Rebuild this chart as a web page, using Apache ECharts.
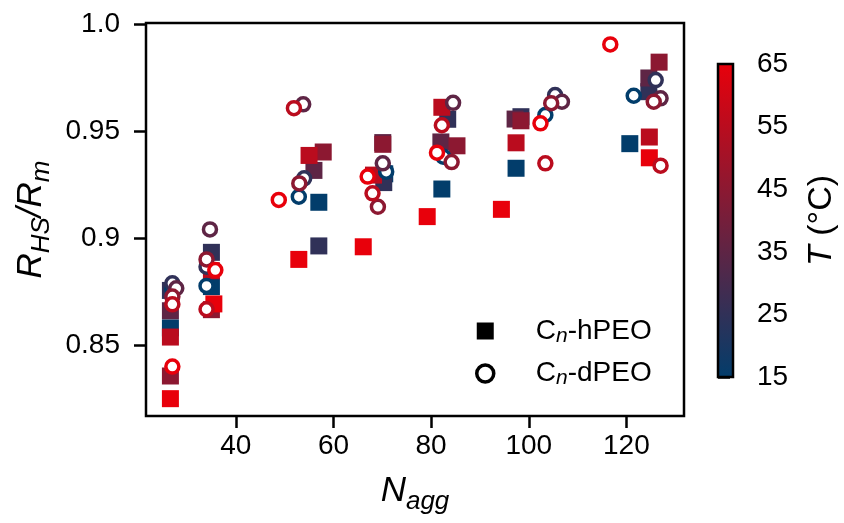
<!DOCTYPE html>
<html><head><meta charset="utf-8">
<script src="https://cdn.jsdelivr.net/npm/echarts@6/dist/echarts.min.js"></script>
<style>html,body{margin:0;padding:0;background:#fff}#c{width:844px;height:523px}</style>
</head><body><div id="c"></div>
<script>
// ---- Data ----
// Cn-hPEO (squares): aggregation number, R_HS/R_m, temperature (°C)
const hN = [
  26.6, 35, 57, 70.5, 82.2, 97.4, 120.7,
  26.6, 35, 57, 70.3, 83.4, 98.4, 124.6,
  26.6, 56, 70.1, 82, 97.2, 124.6,
  26.6, 35, 57.9, 70.1, 85.3, 98.4, 126.7,
  26.6, 35, 55, 68.2, 82.2, 97.4, 124.7,
  26.6, 35.5, 52.9, 66.1, 79.2, 94.4, 124.7
];
const hR = [
  0.858, 0.8773, 0.9167, 0.930, 0.9229, 0.9326, 0.9441,
  0.8755, 0.8933, 0.8963, 0.9259, 0.9555, 0.9567, 0.9684,
  0.866, 0.9316, 0.9446, 0.9449, 0.9556, 0.9748,
  0.8355, 0.8665, 0.9402, 0.9438, 0.9431, 0.9548, 0.9822,
  0.8537, 0.8847, 0.9386, 0.9294, 0.9611, 0.9445, 0.9472,
  0.8249, 0.8692, 0.890, 0.8959, 0.910, 0.9134, 0.9375
];
const hT = [
  15, 15, 15, 15, 15, 15, 15,
  25, 25, 25, 25, 25, 25, 25,
  35, 35, 35, 35, 35, 35,
  45, 45, 45, 45, 45, 45, 45,
  55, 55, 55, 55, 55, 55, 55,
  65, 65, 65, 65, 65, 65, 65
];
// Cn-dPEO (open circles)
const dN = [
  27, 34, 52.9, 70.8, 82.5, 103.4, 121.5,
  27, 34, 54, 105.4, 126,
  27.8, 34.7, 53.8, 70.1, 84.5, 106.8, 127,
  27, 34, 53, 69.1, 84.2, 104.6, 125.6,
  27, 34, 51.9, 68, 82.2, 103.4, 127,
  27, 35.8, 48.8, 67, 81.2, 102.4, 116.7
];
const dR = [
  0.876, 0.8776, 0.9193, 0.931, 0.938, 0.9575, 0.9665,
  0.8788, 0.8866, 0.9279, 0.9668, 0.9738,
  0.8765, 0.904, 0.9625, 0.9349, 0.9632, 0.9637, 0.9653,
  0.8726, 0.890, 0.9255, 0.9146, 0.9355, 0.963, 0.9637,
  0.869, 0.8667, 0.9607, 0.9209, 0.9527, 0.9349, 0.9338,
  0.8399, 0.885, 0.9178, 0.9287, 0.9399, 0.9536, 0.9905
];
const dT = [
  15, 15, 15, 15, 15, 15, 15,
  25, 25, 25, 25, 25,
  35, 35, 35, 35, 35, 35, 35,
  45, 45, 45, 45, 45, 45, 45,
  55, 55, 55, 55, 55, 55, 55,
  65, 65, 65, 65, 65, 65, 65
];
const seriesNames = ['hPEO', 'dPEO'];
const xTicks = [40, 60, 80, 100, 120];
const yTicks = [0.85, 0.9, 0.95, 1.0];
const yTickLabels = ['0.85', '0.9', '0.95', '1.0'];
const cbTicks = [15, 25, 35, 45, 55, 65];

// ---- Styling ----
const cmap = ['#023d6b', '#e8000b'];
const FONT = 'Liberation Sans, Arial, sans-serif';
const tMin = cbTicks[0], tMax = cbTicks[cbTicks.length - 1];
const colorOf = t => echarts.color.lerp((t - tMin) / (tMax - tMin), cmap);

const squares = hN.map((n, i) => [n, hR[i], hT[i]]);
const circles = dN.map((n, i) => ({ value: [n, dR[i], dT[i]], itemStyle: { borderColor: colorOf(dT[i]) } }));

const chart = echarts.init(document.getElementById('c'), null, { renderer: 'canvas' });
const tickStyle = { color: '#000', width: 2.5 };
const TICKFS = 28;
const titleRich = (size) => ({
  i: { fontSize: size, fontStyle: 'italic', fontFamily: FONT, color: '#000', lineHeight: size + 12 },
  s: { fontSize: Math.round(size * 0.74), fontStyle: 'italic', fontFamily: FONT, color: '#000', verticalAlign: 'bottom' }
});

chart.setOption({
  animation: false,
  backgroundColor: '#fff',
  grid: [
    { left: 146, top: 23, width: 538, height: 393, show: true, borderColor: '#000', borderWidth: 2.5, backgroundColor: 'transparent' },
    { left: 718, top: 64, width: 15, height: 313, show: false }
  ],
  xAxis: [
    {
      type: 'value', gridIndex: 0, min: 21.6, max: 131.8,
      axisLine: { show: false },
      axisTick: { show: true, length: 12, lineStyle: tickStyle, customValues: xTicks },
      axisLabel: { customValues: xTicks, fontSize: TICKFS, fontFamily: FONT, color: '#000', margin: 16 },
      splitLine: { show: false },
      name: '{i|N}{s|agg}', nameLocation: 'middle', nameGap: 52,
      nameTextStyle: { rich: titleRich(35) }
    },
    { type: 'value', gridIndex: 1, min: 0, max: 1, show: false }
  ],
  yAxis: [
    {
      type: 'value', gridIndex: 0, min: 0.8168, max: 1.0005,
      axisLine: { show: false },
      axisTick: { show: true, length: 12, lineStyle: tickStyle, customValues: yTicks },
      axisLabel: {
        customValues: yTicks, fontSize: TICKFS, fontFamily: FONT, color: '#000', margin: 26,
        formatter: v => { const k = yTicks.findIndex(t => Math.abs(t - v) < 1e-9); return k >= 0 ? yTickLabels[k] : ''; }
      },
      splitLine: { show: false },
      name: '{i|R}{s|HS}{i|/R}{s|m}', nameLocation: 'middle', nameGap: 86, nameRotate: 90,
      nameTextStyle: { rich: titleRich(35) }
    },
    {
      type: 'value', gridIndex: 1, position: 'right', min: tMin, max: tMax, interval: 10,
      axisLine: { show: false },
      axisTick: { show: true, length: 12, lineStyle: tickStyle },
      axisLabel: { fontSize: TICKFS, fontFamily: FONT, color: '#000', margin: 24 },
      splitLine: { show: false },
      name: '{i|T} (°C)', nameLocation: 'middle', nameGap: 72, nameRotate: 90,
      nameTextStyle: { fontSize: 34, fontFamily: FONT, color: '#000', rich: { i: { fontSize: 34, fontStyle: 'italic', fontFamily: FONT, color: '#000' } } }
    }
  ],
  legend: {
    orient: 'vertical', left: 470, top: 312, itemWidth: 17, itemHeight: 17, itemGap: 13,
    data: [
      { name: seriesNames[0], icon: 'rect', itemStyle: { color: '#000', borderWidth: 0 } },
      { name: seriesNames[1], icon: 'circle', itemStyle: { color: '#fff', borderColor: '#000', borderWidth: 3.5 } }
    ],
    formatter: n => '{t|C}{s|n}{t|-' + n + '}',
    textStyle: {
      fontSize: 28, fontFamily: FONT, color: '#000', padding: [0, 0, 0, 37],
      rich: {
        t: { fontSize: 28, fontFamily: FONT, color: '#000', lineHeight: 31 },
        s: { fontSize: 21, fontStyle: 'italic', fontFamily: FONT, color: '#000', verticalAlign: 'bottom' }
      }
    }
  },
  series: [
    {
      name: seriesNames[0], type: 'scatter', xAxisIndex: 0, yAxisIndex: 0,
      symbol: 'rect', symbolSize: 17,
      itemStyle: { color: p => colorOf(p.value[2]), opacity: 1 },
      emphasis: { disabled: true },
      data: squares
    },
    {
      name: seriesNames[1], type: 'scatter', xAxisIndex: 0, yAxisIndex: 0,
      symbol: 'circle', symbolSize: 13,
      itemStyle: { color: '#fff', borderWidth: 3.5, opacity: 1 },
      emphasis: { disabled: true },
      data: circles
    },
    {
      type: 'custom', xAxisIndex: 1, yAxisIndex: 1, silent: true,
      data: [[0, tMin, tMax]],
      renderItem: (params, api) => {
        const p0 = api.coord([0, api.value(1)]);
        const p1 = api.coord([1, api.value(2)]);
        return {
          type: 'rect',
          shape: { x: p0[0], y: p1[1], width: p1[0] - p0[0], height: p0[1] - p1[1] },
          style: {
            fill: new echarts.graphic.LinearGradient(0, 1, 0, 0, [
              { offset: 0, color: cmap[0] }, { offset: 1, color: cmap[1] }
            ]),
            stroke: '#000', lineWidth: 2.5
          }
        };
      }
    }
  ]
});
</script>
</body></html>
